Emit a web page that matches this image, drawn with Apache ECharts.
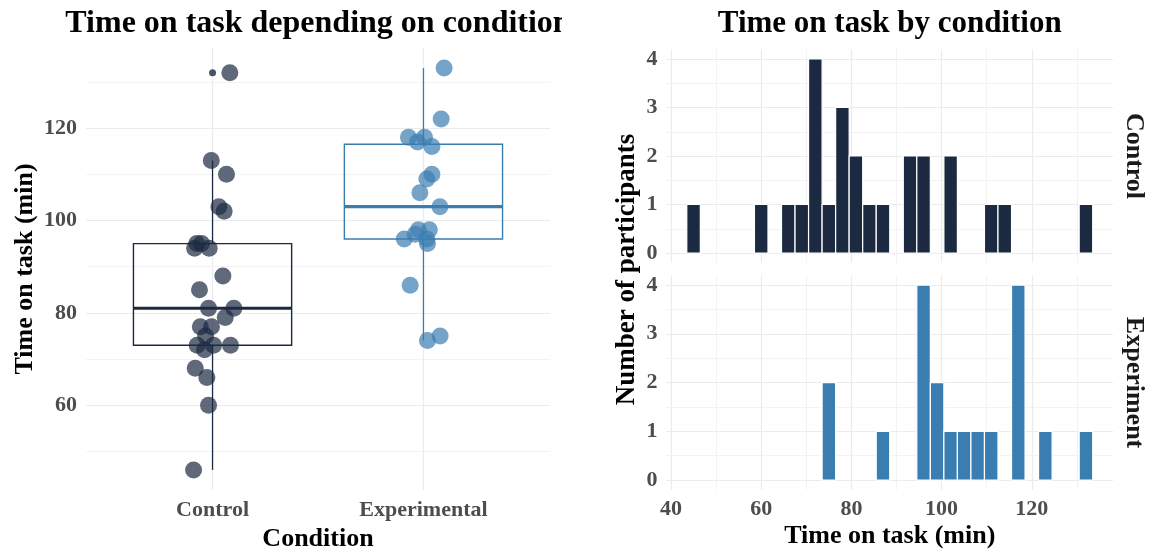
<!DOCTYPE html>
<html><head><meta charset="utf-8">
<script src="https://cdn.jsdelivr.net/npm/echarts@6/dist/echarts.min.js"></script>
<style>html,body{margin:0;padding:0;background:#fff}#c{width:1152px;height:550px}</style>
</head><body><div id="c"></div>
<script>
// ---------------- data ----------------
const categories = ['Control', 'Experimental'];
const controlTimes = [132,113,110,103,102,95,95,94,94,88,85,81,81,79,77,77,75,73,73,73,72,68,66,60,46];
const controlJitter = [0.082,-0.006,0.066,0.030,0.055,-0.075,-0.052,-0.085,-0.016,0.049,-0.062,-0.019,0.101,0.060,-0.058,-0.005,-0.033,-0.073,0.005,0.085,-0.038,-0.082,-0.027,-0.019,-0.090];
const experimentalTimes = [133,122,118,118,117,116,110,109,106,103,98,98,97,96,96,95,86,75,74];
const experimentalJitter = [0.098,0.084,-0.071,0.005,-0.028,0.040,0.040,0.016,-0.017,0.078,-0.024,0.028,-0.039,-0.091,0.016,0.019,-0.063,0.079,0.019];
const binWidth = 3;
const controlBinCenters = [45,60,66,69,72,75,78,81,84,87,93,96,102,111,114,132];
const controlBinCounts  = [1,1,1,1,4,1,3,2,1,1,2,2,2,1,1,1];
const experimentBinCenters = [75,87,96,99,102,105,108,111,117,123,132];
const experimentBinCounts  = [2,1,4,2,1,1,1,1,4,1,1];
const timeTicks = [60,80,100,120];
const timeMinorTicks = [50,70,90,110,130];
const histXTicks = [40,60,80,100,120];
const histXMinorTicks = [50,70,90,110,130];
const countTicks = [0,1,2,3,4];
const countMinorTicks = [0.5,1.5,2.5,3.5];
const facetLabels = ['Control', 'Experiment'];

// ---------------- style ----------------
const DARK = '#1B2A41', BLUE = '#3A7DB1';
const FONT = 'Liberation Serif';
const GRID_COL = '#ebebeb';
const tickText = {fontFamily: FONT, fontWeight: 'bold', fontSize: 22, color: '#4d4d4d'};
const nameText = {fontFamily: FONT, fontWeight: 'bold', fontSize: 26, color: '#000'};

// ---------------- stats ----------------
function quantile(sorted, p) {
  const h = (sorted.length - 1) * p, lo = Math.floor(h), hi = Math.ceil(h);
  return sorted[lo] + (h - lo) * (sorted[hi] - sorted[lo]);
}
function boxStats(vals) {
  const s = vals.slice().sort((a, b) => a - b);
  const q1 = quantile(s, 0.25), md = quantile(s, 0.5), q3 = quantile(s, 0.75);
  const iqr = q3 - q1, lf = q1 - 1.5 * iqr, uf = q3 + 1.5 * iqr;
  const inside = s.filter(v => v >= lf && v <= uf);
  return {lo: inside[0], q1, md, q3, hi: inside[inside.length - 1], out: s.filter(v => v < lf || v > uf)};
}
const groups = [controlTimes, experimentalTimes];
const jitters = [controlJitter, experimentalJitter];
const colors = [DARK, BLUE];
const stats = groups.map(boxStats);
const allTimes = controlTimes.concat(experimentalTimes);
const tMin = Math.min(...allTimes), tMax = Math.max(...allTimes), tPad = (tMax - tMin) * 0.05;
const allBins = controlBinCenters.concat(experimentBinCenters);
const hLo = Math.min(...allBins) - binWidth / 2, hHi = Math.max(...allBins) + binWidth / 2, hPad = (hHi - hLo) * 0.05;
const cMax = Math.max(...controlBinCounts, ...experimentBinCounts), cPad = cMax * 0.05;

// ---------------- layout ----------------
const G0 = {left: 86, top: 48, width: 464, height: 442};
const G1 = {left: 666.5, top: 49.3, width: 446.5, height: 213.4};
const G2 = {left: 666.5, top: 275.3, width: 446.5, height: 214.5};

function majorLine(w) { return {show: true, lineStyle: {color: GRID_COL, width: w}}; }
function gridAxisBase(extra) {
  return Object.assign({axisLine: {show: false}, axisTick: {show: false}}, extra);
}

const xAxes = [
  gridAxisBase({gridIndex: 0, type: 'value', min: 0.4, max: 2.6,
    axisTick: {show: false, customValues: [1, 2]},
    axisLabel: Object.assign({customValues: [1, 2], margin: 9, formatter: v => categories[Math.round(v) - 1]}, tickText),
    splitLine: majorLine(1.2),
    name: 'Condition', nameLocation: 'middle', nameGap: 33, nameTextStyle: nameText}),
  gridAxisBase({gridIndex: 1, type: 'value', min: hLo - hPad, max: hHi + hPad,
    axisTick: {show: false, customValues: histXTicks},
    axisLabel: {show: false, customValues: histXTicks}, splitLine: majorLine(1.2)}),
  gridAxisBase({gridIndex: 1, type: 'value', min: hLo - hPad, max: hHi + hPad,
    axisTick: {show: false, customValues: histXMinorTicks},
    axisLabel: {show: false, customValues: histXMinorTicks}, splitLine: majorLine(0.6)}),
  gridAxisBase({gridIndex: 2, type: 'value', min: hLo - hPad, max: hHi + hPad,
    axisTick: {show: false, customValues: histXTicks},
    axisLabel: Object.assign({customValues: histXTicks, margin: 9}, tickText), splitLine: majorLine(1.2),
    name: 'Time on task (min)', nameLocation: 'middle', nameGap: 33, nameTextStyle: nameText}),
  gridAxisBase({gridIndex: 2, type: 'value', min: hLo - hPad, max: hHi + hPad,
    axisTick: {show: false, customValues: histXMinorTicks},
    axisLabel: {show: false, customValues: histXMinorTicks}, splitLine: majorLine(0.6)})
];
const stripName = (txt) => ({name: txt, nameLocation: 'middle', nameRotate: -90, nameGap: 8,
  nameTextStyle: {fontFamily: FONT, fontWeight: 'bold', fontSize: 26, color: '#1a1a1a'}});
const yAxes = [
  gridAxisBase({gridIndex: 0, type: 'value', min: tMin - tPad, max: tMax + tPad,
    axisTick: {show: false, customValues: timeTicks},
    axisLabel: Object.assign({customValues: timeTicks, margin: 9}, tickText), splitLine: majorLine(1.2),
    name: 'Time on task (min)', nameLocation: 'middle', nameRotate: 90, nameGap: 48, nameTextStyle: nameText}),
  gridAxisBase({gridIndex: 0, type: 'value', min: tMin - tPad, max: tMax + tPad,
    axisTick: {show: false, customValues: timeMinorTicks},
    axisLabel: {show: false, customValues: timeMinorTicks}, splitLine: majorLine(0.6)}),
  gridAxisBase({gridIndex: 1, type: 'value', min: -cPad, max: cMax + cPad,
    axisTick: {show: false, customValues: countTicks},
    axisLabel: Object.assign({customValues: countTicks, margin: 9}, tickText), splitLine: majorLine(1.2)}),
  gridAxisBase(Object.assign({gridIndex: 1, type: 'value', position: 'right', min: -cPad, max: cMax + cPad,
    axisTick: {show: false, customValues: countMinorTicks},
    axisLabel: {show: false, customValues: countMinorTicks}, splitLine: majorLine(0.6)}, stripName(facetLabels[0]))),
  gridAxisBase({gridIndex: 2, type: 'value', min: -cPad, max: cMax + cPad,
    axisTick: {show: false, customValues: countTicks},
    axisLabel: Object.assign({customValues: countTicks, margin: 9}, tickText), splitLine: majorLine(1.2)}),
  gridAxisBase(Object.assign({gridIndex: 2, type: 'value', position: 'right', min: -cPad, max: cMax + cPad,
    axisTick: {show: false, customValues: countMinorTicks},
    axisLabel: {show: false, customValues: countMinorTicks}, splitLine: majorLine(0.6)}, stripName(facetLabels[1])))
];

// ---------------- series ----------------
const boxData = stats.map((s, i) => [i + 1, s.lo, s.q1, s.md, s.q3, s.hi]);
const boxSeries = {
  type: 'custom', xAxisIndex: 0, yAxisIndex: 0, z: 2, silent: true,
  data: boxData,
  encode: {x: 0, y: [1, 2, 3, 4, 5]},
  renderItem(params, api) {
    const x = api.value(0), lo = api.value(1), q1 = api.value(2), md = api.value(3), q3 = api.value(4), hi = api.value(5);
    const half = 0.375, col = colors[params.dataIndex];
    const a = api.coord([x - half, q3]), b = api.coord([x + half, q1]);
    const mL = api.coord([x - half, md]), mR = api.coord([x + half, md]);
    const wHi = api.coord([x, hi]), wQ3 = api.coord([x, q3]), wQ1 = api.coord([x, q1]), wLo = api.coord([x, lo]);
    return {type: 'group', children: [
      {type: 'line', shape: {x1: wHi[0], y1: wHi[1], x2: wQ3[0], y2: wQ3[1]}, style: {stroke: col, lineWidth: 1.3}},
      {type: 'line', shape: {x1: wQ1[0], y1: wQ1[1], x2: wLo[0], y2: wLo[1]}, style: {stroke: col, lineWidth: 1.3}},
      {type: 'rect', shape: {x: a[0], y: a[1], width: b[0] - a[0], height: b[1] - a[1]}, style: {fill: 'none', stroke: col, lineWidth: 1.4}},
      {type: 'line', shape: {x1: mL[0], y1: mL[1], x2: mR[0], y2: mR[1]}, style: {stroke: col, lineWidth: 3.2}}
    ]};
  }
};
const outlierSeries = {
  type: 'scatter', xAxisIndex: 0, yAxisIndex: 0, z: 3, silent: true, symbolSize: 7,
  data: stats.flatMap((s, i) => s.out.map(v => ({value: [i + 1, v], itemStyle: {color: colors[i]}})))
};
const pointSeries = groups.map((g, i) => ({
  type: 'scatter', xAxisIndex: 0, yAxisIndex: 0, z: 4, silent: true, symbolSize: 17,
  itemStyle: {color: colors[i], opacity: 0.7},
  data: g.map((v, k) => [i + 1 + jitters[i][k], v])
}));
function histSeries(centers, counts, col, xi, yi) {
  return {
    type: 'custom', xAxisIndex: xi, yAxisIndex: yi, silent: true,
    data: centers.map((c, k) => [c, counts[k]]),
    encode: {x: 0, y: 1},
    renderItem(params, api) {
      const c = api.value(0), n = api.value(1);
      const p0 = api.coord([c - binWidth / 2, n]), p1 = api.coord([c + binWidth / 2, 0]);
      return {type: 'rect', shape: {x: p0[0], y: p0[1], width: p1[0] - p0[0], height: p1[1] - p0[1]},
        style: {fill: col, stroke: '#fff', lineWidth: 1.2}};
    }
  };
}

const option = {
  animation: false,
  backgroundColor: '#fff',
  grid: [G0, G1, G2].map(g => Object.assign({containLabel: false, outerBoundsMode: 'none'}, g)),
  xAxis: xAxes,
  yAxis: yAxes,
  series: [boxSeries, outlierSeries].concat(pointSeries, [
    histSeries(controlBinCenters, controlBinCounts, DARK, 1, 2),
    histSeries(experimentBinCenters, experimentBinCounts, BLUE, 3, 4)
  ]),
  graphic: [
    {type: 'text', x: G0.left + G0.width / 2, y: 24, z: 10,
      style: {text: 'Time on task depending on condition', align: 'center', verticalAlign: 'middle',
        font: 'bold 32px "Liberation Serif"', fill: '#000'}},
    {type: 'rect', shape: {x: 562, y: 0, width: 60, height: 46}, z: 11, style: {fill: '#fff'}},
    {type: 'text', x: G1.left + G1.width / 2, y: 24, z: 10,
      style: {text: 'Time on task by condition', align: 'center', verticalAlign: 'middle',
        font: 'bold 31px "Liberation Serif"', fill: '#000'}},
    {type: 'text', x: 627, y: (G1.top + G2.top + G2.height) / 2, rotation: Math.PI / 2, z: 10,
      style: {text: 'Number of participants', align: 'center', verticalAlign: 'middle',
        font: 'bold 27px "Liberation Serif"', fill: '#000'}}
  ]
};
const chart = echarts.init(document.getElementById('c'), null, {renderer: 'canvas'});
chart.setOption(option);
</script></body></html>
